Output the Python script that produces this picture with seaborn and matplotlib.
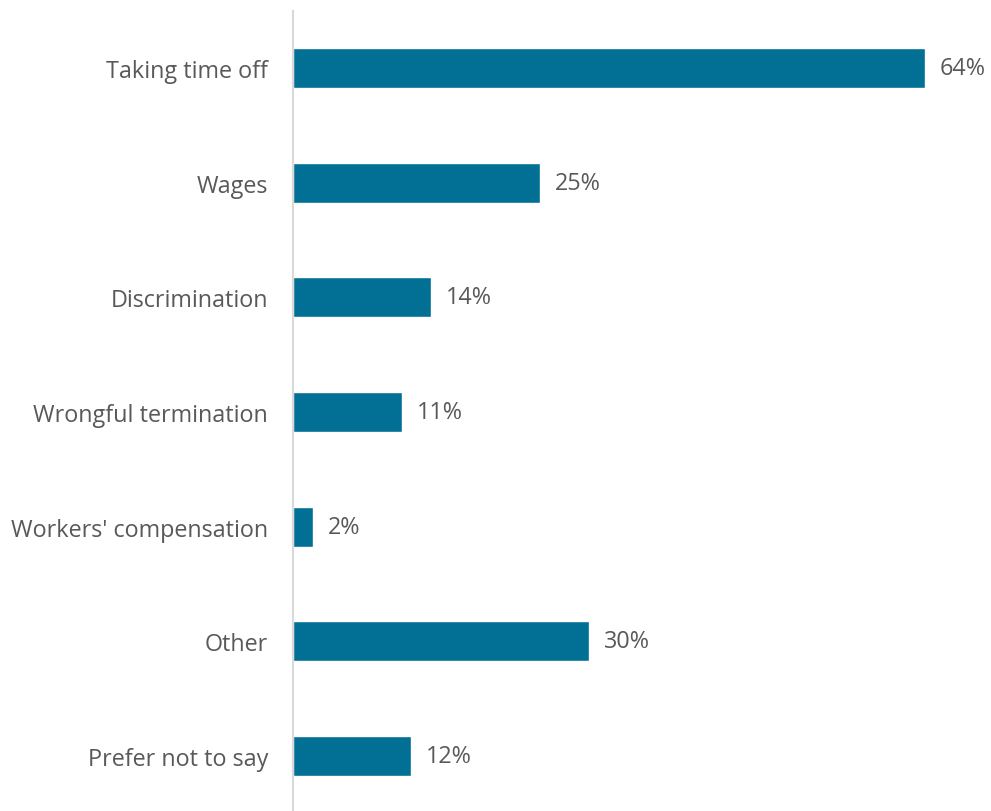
import matplotlib
matplotlib.use("Agg")
import matplotlib.pyplot as plt
import seaborn as sns
import pandas as pd

categories = ["Taking time off", "Wages", "Discrimination", "Wrongful termination",
              "Workers' compensation", "Other", "Prefer not to say"]
values = [64, 25, 14, 11, 2, 30, 12]
value_labels = ["64%", "25%", "14%", "11%", "2%", "30%", "12%"]

df = pd.DataFrame({"category": categories, "value": values})

sns.set_theme(style="white")
plt.rcParams["font.family"] = ["Open Sans", "DejaVu Sans"]

bar_color = "#026F95"
text_color = "#595959"

fig = plt.figure(figsize=(9.91, 8.12), dpi=100)
ax = fig.add_axes([293 / 991, -2 / 812, 1 - 293 / 991, 1 - 10 / 812])

sns.barplot(data=df, x="value", y="category", orient="h", color=bar_color,
            width=0.35, saturation=1, ax=ax)

ax.set_xlim(0, 70.7)
ax.set_ylim(6.5, -0.5)
ax.set_xlabel("")
ax.set_ylabel("")
ax.set_xticks([])

for i, (v, lab) in enumerate(zip(values, value_labels)):
    ax.text(v + 1.5, i, lab, va="center", ha="left", fontsize=16.8, color=text_color)

ax.tick_params(axis="y", length=0, pad=18, labelsize=16.8, labelcolor=text_color)
for s in ["top", "right", "bottom"]:
    ax.spines[s].set_visible(False)
ax.spines["left"].set_color("#D9D9D9")
ax.spines["left"].set_linewidth(1.5)

fig.savefig("out.png", dpi=100)
